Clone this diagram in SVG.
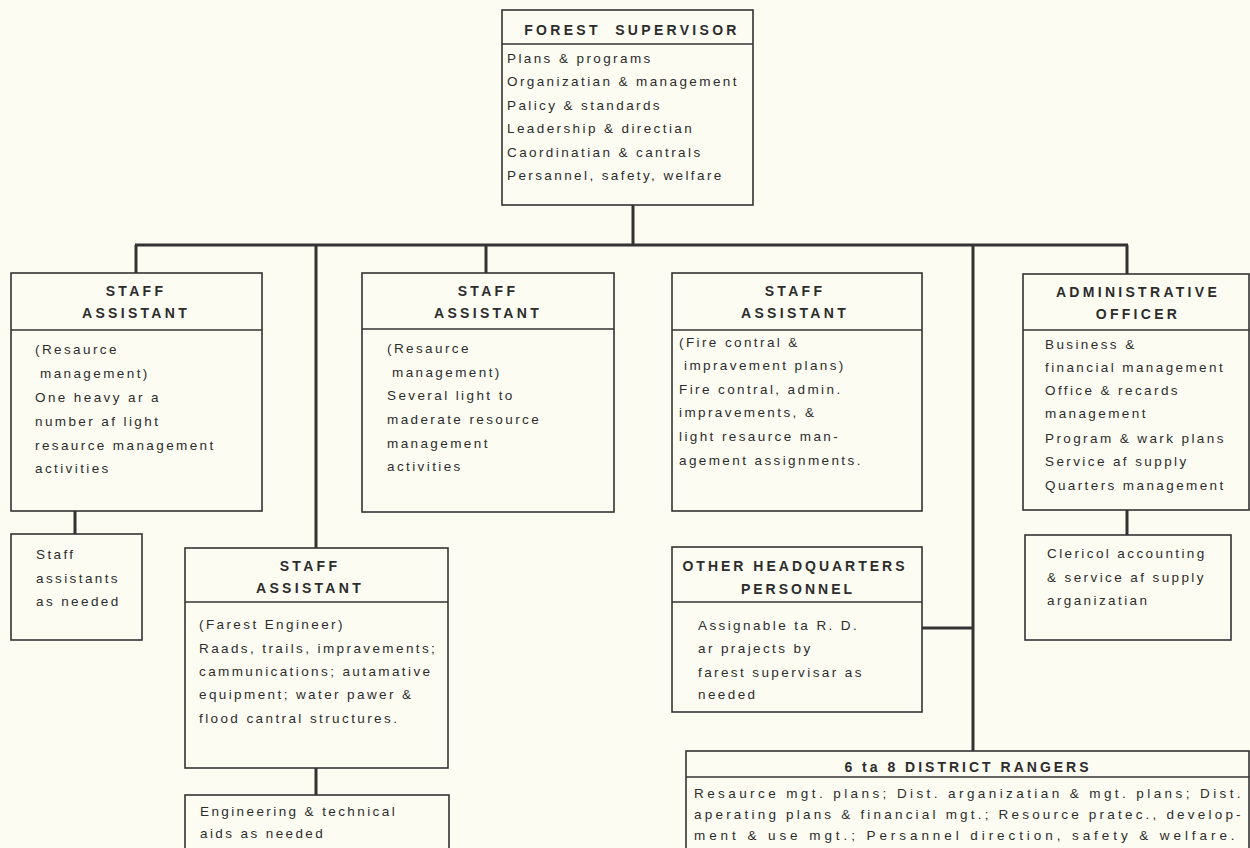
<svg xmlns="http://www.w3.org/2000/svg" width="1250" height="848" viewBox="0 0 1250 848">
<style>
.bg{fill:#fcfcf3}
.box{fill:none;stroke:#333;stroke-width:1.6}
.div{stroke:#333;stroke-width:1.4}
.con{fill:none;stroke:#333;stroke-width:3}
.h{font-family:"Liberation Sans",Arial,sans-serif;font-weight:bold;font-size:14px;letter-spacing:3.3px;fill:#2c2c2c;text-anchor:middle}
.t{font-family:"Liberation Sans",Arial,sans-serif;font-size:13.5px;letter-spacing:2.4px;fill:#2c2c2c}
</style>
<rect class="bg" x="0" y="0" width="1250" height="848"/>
<g id="connectors">
<path class="con" d="M633 205V245M135 245H1128M136 245V273M316 245V548M486 245V273M973 245V751M1127 245V274"/>
<path class="con" d="M75 511V534M316 768V795M1127 510V535M922 628H973"/>
</g>
<g id="forest-supervisor">
<rect class="box" x="502" y="10" width="251" height="195"/>
<line class="div" x1="502" y1="44" x2="753" y2="44"/>
<text class="h" x="632" y="35" xml:space="preserve">FOREST  SUPERVISOR</text>
<text class="t" x="507" y="63">Plans &amp; programs</text>
<text class="t" x="507" y="86">Organizatian &amp; management</text>
<text class="t" x="507" y="110">Palicy &amp; standards</text>
<text class="t" x="507" y="133">Leadership &amp; directian</text>
<text class="t" x="507" y="157">Caordinatian &amp; cantrals</text>
<text class="t" x="507" y="180">Persannel, safety, welfare</text>
</g>
<g id="staff-assistant-1">
<rect class="box" x="11" y="273" width="251" height="238"/>
<line class="div" x1="11" y1="330" x2="262" y2="330"/>
<text class="h" x="136" y="296">STAFF</text>
<text class="h" x="136" y="318">ASSISTANT</text>
<text class="t" x="35" y="354">(Resaurce</text>
<text class="t" x="40" y="378">management)</text>
<text class="t" x="35" y="402">One heavy ar a</text>
<text class="t" x="35" y="426">number af light</text>
<text class="t" x="35" y="450">resaurce management</text>
<text class="t" x="35" y="473">activities</text>
</g>
<g id="staff-assistants-as-needed">
<rect class="box" x="11" y="534" width="131" height="106"/>
<text class="t" x="36" y="559">Staff</text>
<text class="t" x="36" y="583">assistants</text>
<text class="t" x="36" y="606">as needed</text>
</g>
<g id="staff-assistant-2">
<rect class="box" x="362" y="273" width="252" height="239"/>
<line class="div" x1="362" y1="329" x2="614" y2="329"/>
<text class="h" x="488" y="296">STAFF</text>
<text class="h" x="488" y="318">ASSISTANT</text>
<text class="t" x="387" y="353">(Resaurce</text>
<text class="t" x="392" y="377">management)</text>
<text class="t" x="387" y="400">Several light to</text>
<text class="t" x="387" y="424">maderate resource</text>
<text class="t" x="387" y="448">management</text>
<text class="t" x="387" y="471">activities</text>
</g>
<g id="staff-assistant-3">
<rect class="box" x="672" y="273" width="250" height="238"/>
<line class="div" x1="672" y1="330" x2="922" y2="330"/>
<text class="h" x="795" y="296">STAFF</text>
<text class="h" x="795" y="318">ASSISTANT</text>
<text class="t" x="679" y="347">(Fire contral &amp;</text>
<text class="t" x="684" y="370">impravement plans)</text>
<text class="t" x="679" y="394">Fire contral, admin.</text>
<text class="t" x="679" y="417">impravements, &amp;</text>
<text class="t" x="679" y="441">light resaurce man-</text>
<text class="t" x="679" y="465">agement assignments.</text>
</g>
<g id="administrative-officer">
<rect class="box" x="1023" y="274" width="226" height="236"/>
<line class="div" x1="1023" y1="330" x2="1249" y2="330"/>
<text class="h" x="1138" y="297">ADMINISTRATIVE</text>
<text class="h" x="1138" y="319">OFFICER</text>
<text class="t" x="1045" y="349">Business &amp;</text>
<text class="t" x="1045" y="372">financial management</text>
<text class="t" x="1045" y="395">Office &amp; recards</text>
<text class="t" x="1045" y="418">management</text>
<text class="t" x="1045" y="443">Program &amp; wark plans</text>
<text class="t" x="1045" y="466">Service af supply</text>
<text class="t" x="1045" y="490">Quarters management</text>
</g>
<g id="clerical">
<rect class="box" x="1025" y="535" width="206" height="105"/>
<text class="t" x="1047" y="558">Clericol accounting</text>
<text class="t" x="1047" y="582">&amp; service af supply</text>
<text class="t" x="1047" y="605">arganizatian</text>
</g>
<g id="staff-assistant-engineer">
<rect class="box" x="185" y="548" width="263" height="220"/>
<line class="div" x1="185" y1="602" x2="448" y2="602"/>
<text class="h" x="310" y="571">STAFF</text>
<text class="h" x="310" y="593">ASSISTANT</text>
<text class="t" x="199" y="629">(Farest Engineer)</text>
<text class="t" x="199" y="653">Raads, trails, impravements;</text>
<text class="t" x="199" y="676">cammunications; autamative</text>
<text class="t" x="199" y="699">equipment; water pawer &amp;</text>
<text class="t" x="199" y="723">flood cantral structures.</text>
</g>
<g id="engineering-aids">
<rect class="box" x="185" y="795" width="264" height="60"/>
<text class="t" x="200" y="816">Engineering &amp; technical</text>
<text class="t" x="200" y="838">aids as needed</text>
</g>
<g id="other-hq-personnel">
<rect class="box" x="672" y="547" width="250" height="165"/>
<line class="div" x1="672" y1="602" x2="922" y2="602"/>
<text class="h" x="795" y="571" style="letter-spacing:3px">OTHER HEADQUARTERS</text>
<text class="h" x="798" y="594" style="letter-spacing:3px">PERSONNEL</text>
<text class="t" x="698" y="630">Assignable ta R. D.</text>
<text class="t" x="698" y="653">ar prajects by</text>
<text class="t" x="698" y="677">farest supervisar as</text>
<text class="t" x="698" y="699">needed</text>
</g>
<g id="district-rangers">
<rect class="box" x="686" y="751" width="563" height="105"/>
<line class="div" x1="686" y1="777" x2="1249" y2="777"/>
<text class="h" x="968" y="772" style="letter-spacing:3px">6 ta 8 DISTRICT RANGERS</text>
<text class="t" x="694" y="798" textLength="549" lengthAdjust="spacing">Resaurce mgt. plans; Dist. arganizatian &amp; mgt. plans; Dist.</text>
<text class="t" x="694" y="819" textLength="549" lengthAdjust="spacing">aperating plans &amp; financial mgt.; Resource pratec., develop-</text>
<text class="t" x="694" y="840" textLength="543" lengthAdjust="spacing">ment &amp; use mgt.; Persannel direction, safety &amp; welfare.</text>
</g>
</svg>
